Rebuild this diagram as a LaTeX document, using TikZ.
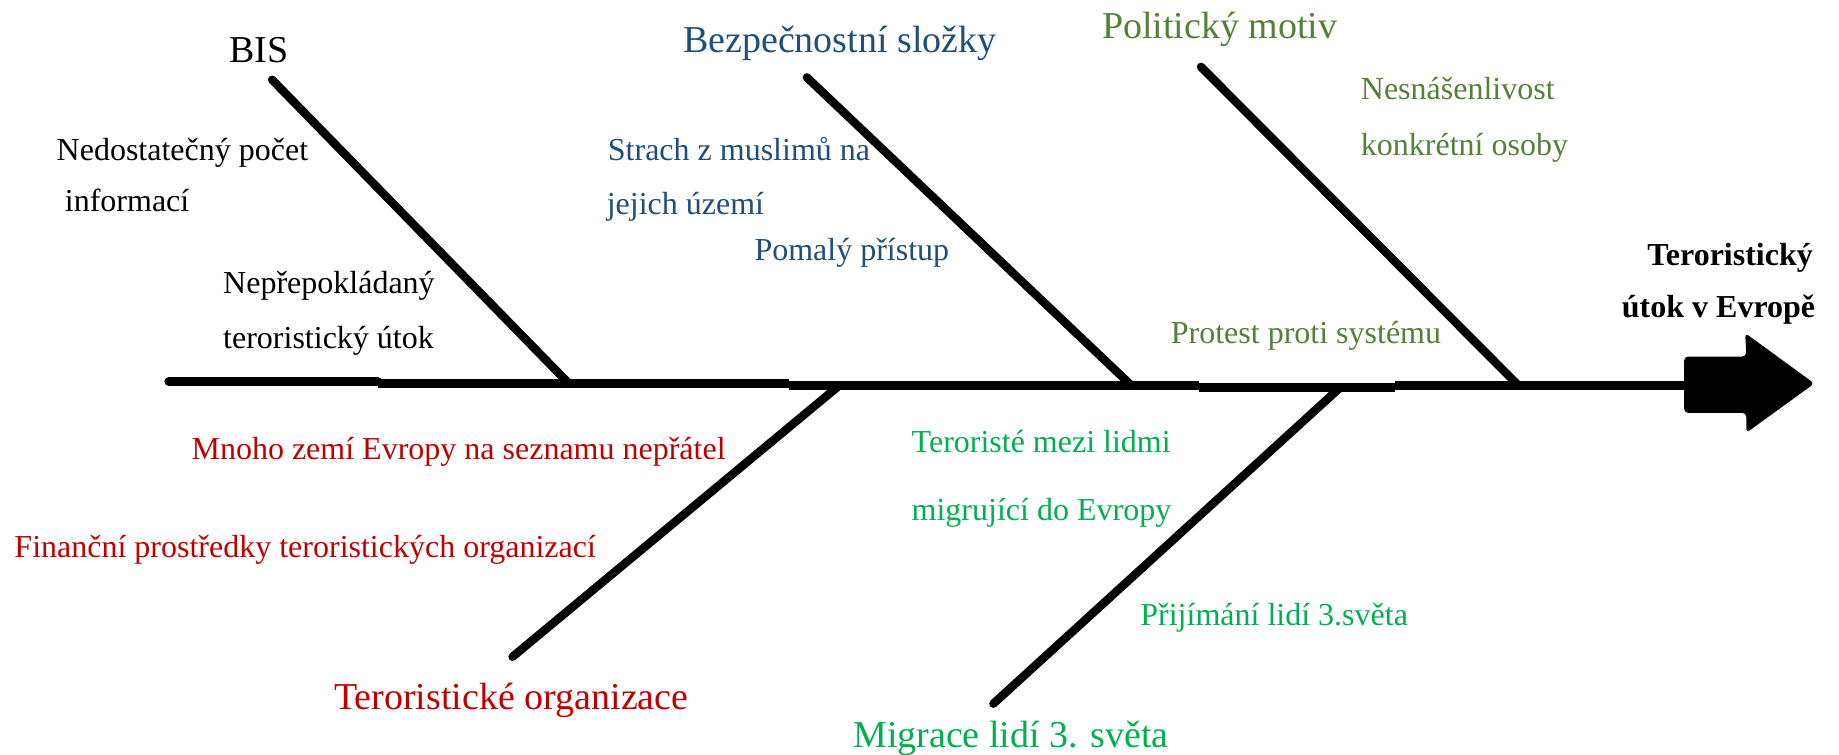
\documentclass[tikz,border=0pt]{standalone}
\usepackage{fontspec}
\setmainfont{Liberation Serif}
\definecolor{secblue}{HTML}{1F4E79}
\definecolor{polgreen}{HTML}{538135}
\definecolor{orgred}{HTML}{C00000}
\definecolor{miggreen}{HTML}{00B050}
\begin{document}
\begin{tikzpicture}[x=0.58641pt,y=-0.58641pt,
  bone/.style={line width=4.2pt, line cap=round},
  spineline/.style={line width=4.5pt},
  lab/.style={inner sep=0pt, anchor=base west, font=\fontsize{16}{20}\selectfont},
  headlab/.style={inner sep=0pt, anchor=base, font=\fontsize{19}{23}\selectfont},
  goal/.style={inner sep=0pt, anchor=base east, font=\fontsize{16}{20}\selectfont\bfseries},
]
\useasboundingbox (0,0) rectangle (1568,643.7);

% spine (slightly stepped, as hand drawn) and arrow
\coordinate (tail) at (144,325.4);
\coordinate (k1a) at (322,325.4); \coordinate (k1b) at (322,327.4);
\coordinate (k2a) at (673,327.4); \coordinate (k2b) at (673,329.1);
\coordinate (k3a) at (1022,329.1); \coordinate (k3b) at (1022,330.6);
\coordinate (k4a) at (1189,330.6); \coordinate (k4b) at (1189,328.9);
\coordinate (abase) at (1440,328.9);
\draw[spineline, line cap=round] (tail) -- (k1a);
\draw[spineline] (k1b) -- (k2a);
\draw[spineline] (k2b) -- (k3a);
\draw[spineline] (k3b) -- (k4a);
\draw[spineline] (k4b) -- (abase);
\fill[rounded corners=2pt] (1436,304) -- (1489,304) -- (1488,284) -- (1547,327)
  -- (1489,369) -- (1489,352) -- (1436,352) -- cycle;

% bones
\coordinate (bisT) at (232,68);   \coordinate (bisE) at (485,327);
\coordinate (secT) at (688,66);   \coordinate (secE) at (965,329);
\coordinate (polT) at (1024,57);  \coordinate (polE) at (1295,329);
\coordinate (orgT) at (437,560);  \coordinate (orgE) at (714,330);
\coordinate (migT) at (847,600);  \coordinate (migE) at (1142,331);
\draw[bone] (bisT) -- (bisE);
\draw[bone] (secT) -- (secE);
\draw[bone] (polT) -- (polE);
\draw[bone] (orgT) -- (orgE);
\draw[bone] (migT) -- (migE);

% headings
\node[headlab] (bis) at (221,53) {BIS};
\node[headlab, text=secblue] (sec) at (716,45) {Bezpečnostní složky};
\node[headlab, text=polgreen] (pol) at (1040,33) {Politický motiv};
\node[headlab, text=orgred] (org) at (436,605) {Teroristické organizace};
\node[headlab, text=miggreen] (mig) at (862,637) {Migrace lidí 3. světa};

% BIS causes
\node[lab] (b1a) at (48,137) {Nedostatečný počet};
\node[lab] (b1b) at (55,180) {informací};
\node[lab] (b2a) at (190,250) {Nepřepokládaný};
\node[lab] (b2b) at (190,297) {teroristický útok};

% security causes
\node[lab, text=secblue] (s1a) at (518,137) {Strach z muslimů na};
\node[lab, text=secblue] (s1b) at (517,183) {jejich území};
\node[lab, text=secblue] (s2) at (643,222) {Pomalý přístup};

% political causes
\node[lab, text=polgreen] (p1a) at (1160,85) {Nesnášenlivost};
\node[lab, text=polgreen] (p1b) at (1160,133) {konkrétní osoby};
\node[lab, text=polgreen] (p2) at (998,293) {Protest proti systému};

% organisation causes
\node[lab, text=orgred] (o1) at (163,392) {Mnoho zemí Evropy na seznamu nepřátel};
\node[lab, text=orgred] (o2) at (12,475) {Finanční prostředky teroristických organizací};

% migration causes
\node[lab, text=miggreen] (m1a) at (777,386) {Teroristé mezi lidmi};
\node[lab, text=miggreen] (m1b) at (777,444) {migrující do Evropy};
\node[lab, text=miggreen] (m2) at (972,533) {Přijímání lidí 3.světa};

% effect
\node[goal] (eff1) at (1546,226) {Teroristický};
\node[goal] (eff2) at (1548,271) {útok v Evropě};
\end{tikzpicture}
\end{document}
